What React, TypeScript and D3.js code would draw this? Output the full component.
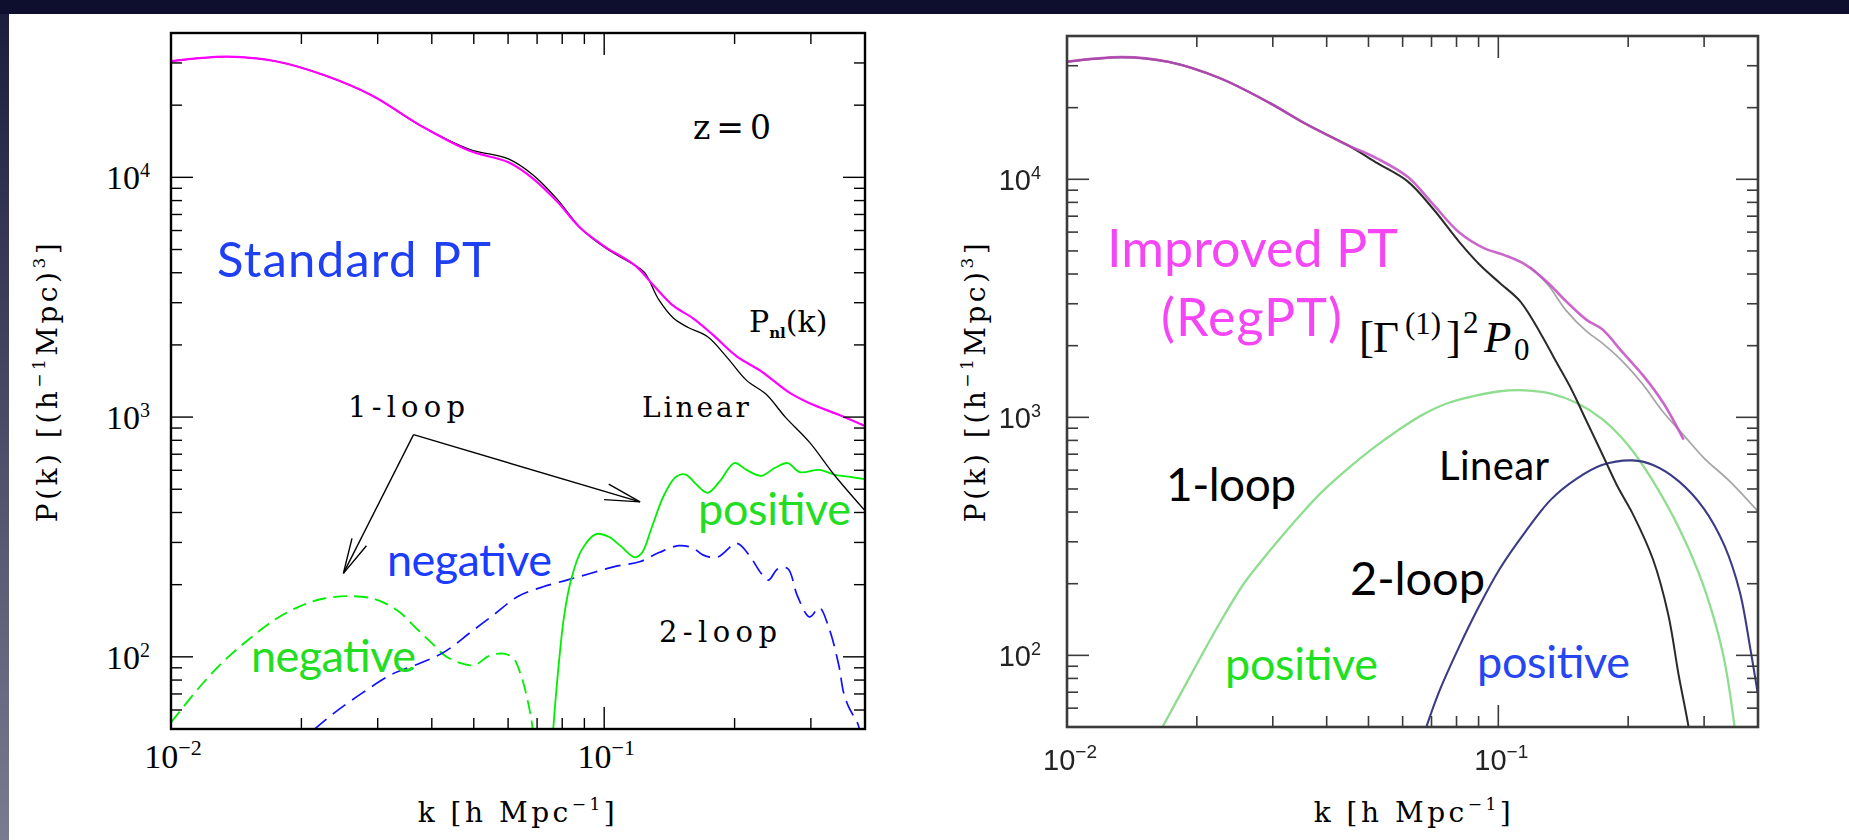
import React, { useEffect } from 'react';
import * as d3 from 'd3';

const W = 1849;
const H = 840;

// ---------- axis domains and tick labels ----------
const K_DOMAIN: [number, number] = [0.01, 0.4];
const P_DOMAIN: [number, number] = [50, 40000];
const X_TICK_LABELS = [
  { v: 0.01, exp: '−2' },
  { v: 0.1, exp: '−1' },
];
const Y_TICK_LABELS = [
  { v: 100, exp: '2' },
  { v: 1000, exp: '3' },
  { v: 10000, exp: '4' },
];

// ---------- left panel (Standard PT) ----------
const pnlK = [0.0100, 0.01346, 0.01742, 0.02254, 0.02917, 0.03776, 0.04887, 0.0601, 0.0684, 0.0778, 0.0885, 0.1007, 0.1178, 0.1305, 0.1446, 0.1604, 0.1778, 0.2023, 0.2301, 0.2688, 0.2980, 0.3479, 0.4009];
const pnlP = [30500, 31900, 30500, 26700, 21900, 16400, 12900, 11560, 9910, 7940, 6100, 5120, 4290, 3515, 2908, 2582, 2212, 1790, 1554, 1258, 1142, 1022, 916];

const linK = [0.0100, 0.01346, 0.01742, 0.02254, 0.02917, 0.03776, 0.04887, 0.0601, 0.0684, 0.0778, 0.0885, 0.1007, 0.1178, 0.1239, 0.1338, 0.1446, 0.1563, 0.1733, 0.1921, 0.2131, 0.2362, 0.2619, 0.2980, 0.3391, 0.4009];
const linP = [30500, 31900, 30500, 26700, 21900, 16400, 13090, 11940, 10260, 8130, 6100, 5070, 4290, 4010, 3080, 2582, 2363, 2163, 1775, 1423, 1247, 1000, 784, 576, 405];

const oneLoopPosK = [0.0749, 0.0778, 0.0809, 0.0841, 0.0886, 0.0957, 0.1021, 0.1089, 0.1177, 0.1223, 0.1288, 0.1374, 0.1465, 0.1543, 0.1625, 0.1733, 0.1848, 0.1998, 0.2131, 0.2302, 0.2487, 0.2653, 0.2829, 0.3138, 0.3391, 0.3663, 0.4009];
const oneLoopPosP = [32, 77.4, 150, 213.5, 278, 325, 318, 291, 260, 272, 347, 472, 564, 576, 528, 483, 539, 643, 602, 569, 616, 643, 589, 602, 576, 564, 551];

const oneLoopNegK = [0.0100, 0.01183, 0.01346, 0.01531, 0.01742, 0.01982, 0.02254, 0.02565, 0.02918, 0.0332, 0.03683, 0.03979, 0.04299, 0.04645, 0.05018, 0.05423, 0.05859, 0.06172, 0.06415, 0.06668, 0.06843, 0.06986];
const oneLoopNegP = [53.2, 77.4, 98.7, 120.4, 143.6, 162.4, 175.1, 179, 175.1, 156.8, 131.5, 115.2, 100.9, 94.4, 92.4, 100.9, 103.1, 98.7, 84.6, 64.9, 49.8, 35];

const twoLoopNegK = [0.02141, 0.02374, 0.02772, 0.03236, 0.03779, 0.04299, 0.04893, 0.05565, 0.06333, 0.07203, 0.08196, 0.09326, 0.1061, 0.1207, 0.1339, 0.1484, 0.1604, 0.1689, 0.1825, 0.2023, 0.2158, 0.2302, 0.2393, 0.2519, 0.2653, 0.2794, 0.2980, 0.3138, 0.3304, 0.3479, 0.3570, 0.3663, 0.3759, 0.3857, 0.3938];
const twoLoopNegP = [49.8, 58.1, 70.9, 84.6, 94.4, 105.4, 125.8, 150, 179, 195.6, 208.9, 223.2, 238.5, 249.2, 272.2, 290.8, 284.4, 266.3, 260.4, 297.3, 266.3, 223.2, 208.9, 233.3, 233.3, 179, 146.8, 160.3, 131.5, 92.4, 70.9, 62.1, 56.9, 52.1, 43.7];

// arrow annotation (k, P): origin, left tip, right tip
const arrowOrigin = [0.0363, 845];
const arrowTips = [
  [0.0250, 223],
  [0.121, 443],
];

// ---------- right panel (RegPT) ----------
const regK = [0.0100, 0.01342, 0.01715, 0.02253, 0.02958, 0.03579, 0.04451, 0.05242, 0.06172, 0.07073, 0.08107, 0.09290, 0.1036, 0.1155, 0.1288, 0.1437, 0.1602, 0.1739, 0.1940, 0.2163, 0.2411, 0.2689];
const regP = [31170, 32600, 31170, 26670, 20870, 17080, 13970, 12220, 10220, 7826, 5990, 5123, 4792, 4384, 3751, 3069, 2567, 2348, 1879, 1504, 1151, 806];

const gammaK = [0.0100, 0.01342, 0.01715, 0.02253, 0.02958, 0.03579, 0.04451, 0.05242, 0.06172, 0.07073, 0.08107, 0.09042, 0.1008, 0.1124, 0.1254, 0.1360, 0.1476, 0.1602, 0.1739, 0.1886, 0.2047, 0.2284, 0.2478, 0.2618, 0.2763, 0.2824];
const gammaP = [31170, 32600, 31170, 26670, 20870, 17080, 13970, 11690, 9779, 7485, 5477, 4384, 3667, 3069, 2246, 1719, 1315, 962.6, 704.7, 515.9, 394.8, 252.7, 148.1, 82.9, 49.7, 37.2];

const grayK = [0.1187, 0.1306, 0.1437, 0.1602, 0.1739, 0.1940, 0.2163, 0.2411, 0.2689, 0.2998, 0.3437, 0.3993];
const grayP = [4287, 3586, 2807, 2297, 2054, 1719, 1375, 1053, 842.3, 674.2, 539.4, 403.6];

const reg1LoopK = [0.0158, 0.01965, 0.02253, 0.02581, 0.02958, 0.03390, 0.03884, 0.04451, 0.05100, 0.05845, 0.06699, 0.07676, 0.08797, 0.1008, 0.1155, 0.1324, 0.1517, 0.1739, 0.1992, 0.2284, 0.2618, 0.2918, 0.3166, 0.3344, 0.3531, 0.3589];
const reg1LoopP = [42, 86.7, 135.4, 202.3, 276.3, 369.3, 482.5, 603, 737, 880.8, 1029, 1151, 1230, 1287, 1298, 1258, 1151, 984.5, 770.3, 539.3, 345.3, 221.1, 141.6, 94.8, 49.7, 37.2];

const reg2LoopK = [0.0665, 0.07268, 0.08107, 0.09042, 0.1008, 0.1155, 0.1324, 0.1517, 0.1739, 0.2047, 0.2284, 0.2618, 0.2998, 0.3344, 0.3629, 0.3834, 0.3993];
const reg2LoopP = [44, 69.4, 108.3, 161.9, 231.2, 330.3, 451.1, 551.3, 630.4, 659.2, 630.4, 539.4, 412.8, 288.9, 185, 108.3, 69.4];

// ---------- helpers ----------
function logTicks(lo: number, hi: number) {
  const out: { v: number; major: boolean }[] = [];
  for (let e = Math.floor(Math.log10(lo)); e <= Math.ceil(Math.log10(hi)); e++) {
    for (let m = 1; m <= 9; m++) {
      const v = m * Math.pow(10, e);
      if (v >= lo * 0.999 && v <= hi * 1.001) out.push({ v, major: m === 1 });
    }
  }
  return out;
}

function zip(a: number[], b: number[]): [number, number][] {
  return a.map((v, i) => [v, b[i]]);
}

type Box = { x0: number; y0: number; x1: number; y1: number };

function makeScales(box: Box) {
  const xs = d3.scaleLog().domain(K_DOMAIN).range([box.x0, box.x1]);
  const ys = d3.scaleLog().domain(P_DOMAIN).range([box.y1, box.y0]);
  return { xs, ys };
}

function Frame({ box, xs, ys, color, frameW, tickW, minorLen, majorLen }: any) {
  const xt = logTicks(K_DOMAIN[0], K_DOMAIN[1]);
  const yt = logTicks(P_DOMAIN[0], P_DOMAIN[1]);
  return (
    <g stroke={color} fill="none">
      {xt.map((t) => {
        const x = xs(t.v);
        const L = t.major ? majorLen : minorLen;
        return (
          <g key={'x' + t.v} strokeWidth={tickW}>
            <line x1={x} x2={x} y1={box.y1} y2={box.y1 - L} />
            <line x1={x} x2={x} y1={box.y0} y2={box.y0 + L} />
          </g>
        );
      })}
      {yt.map((t) => {
        const y = ys(t.v);
        const L = t.major ? majorLen : minorLen;
        return (
          <g key={'y' + t.v} strokeWidth={tickW}>
            <line x1={box.x0} x2={box.x0 + L} y1={y} y2={y} />
            <line x1={box.x1} x2={box.x1 - L} y1={y} y2={y} />
          </g>
        );
      })}
      <rect x={box.x0} y={box.y0} width={box.x1 - box.x0} height={box.y1 - box.y0} strokeWidth={frameW} />
    </g>
  );
}

const HERSHEY = "'DejaVu Serif', 'Liberation Serif', serif";
const SERIF = "'Liberation Serif', 'DejaVu Serif', serif";
const SANS = "'Liberation Sans', Arial, sans-serif";
const GILL = "Lato, 'Open Sans', sans-serif";

function arrowHead(tip: [number, number], from: [number, number], len: number, half: number) {
  const ang = Math.atan2(from[1] - tip[1], from[0] - tip[0]);
  const a1 = ang + (half * Math.PI) / 180;
  const a2 = ang - (half * Math.PI) / 180;
  return `M${tip[0] + len * Math.cos(a1)},${tip[1] + len * Math.sin(a1)}L${tip[0]},${tip[1]}L${tip[0] + len * Math.cos(a2)},${tip[1] + len * Math.sin(a2)}`;
}

function XLabel({ x }: { x: number }) {
  return (
    <text x={x} y={822} textAnchor="middle" letterSpacing={3.5}>
      k [h Mpc<tspan dy={-12} fontSize={17}>−1</tspan><tspan dy={12}>]</tspan>
    </text>
  );
}

function YLabel({ x }: { x: number }) {
  return (
    <text transform={`translate(${x},381) rotate(-90)`} textAnchor="middle" letterSpacing={3.5}>
      P(k) [(h<tspan dy={-12} fontSize={17}>−1</tspan><tspan dy={12}>Mpc)</tspan><tspan dy={-12} fontSize={17}>3</tspan><tspan dy={12}>]</tspan>
    </text>
  );
}

export default function App() {
  useEffect(() => {
    document.body.style.margin = '0';
    document.documentElement.style.overflow = 'hidden';
  }, []);

  const boxL: Box = { x0: 171, y0: 33, x1: 865, y1: 729 };
  const boxR: Box = { x0: 1067, y0: 36, x1: 1758, y1: 727 };
  const L = makeScales(boxL);
  const R = makeScales(boxR);

  const lineL = d3
    .line<[number, number]>()
    .x((d) => L.xs(d[0]))
    .y((d) => L.ys(d[1]))
    .curve(d3.curveCatmullRom.alpha(0.5));
  const lineR = d3
    .line<[number, number]>()
    .x((d) => R.xs(d[0]))
    .y((d) => R.ys(d[1]))
    .curve(d3.curveCatmullRom.alpha(0.5));

  const o: [number, number] = [L.xs(arrowOrigin[0]), L.ys(arrowOrigin[1])];
  const tips: [number, number][] = arrowTips.map((t) => [L.xs(t[0]), L.ys(t[1])]);

  return (
    <svg width={W} height={H} viewBox={`0 0 ${W} ${H}`} style={{ display: 'block' }}>
      <defs>
        <linearGradient id="strip" x1="0" y1="0" x2="0" y2="1">
          <stop offset="0" stopColor="#1b1b3d" />
          <stop offset="1" stopColor="#7a7a90" />
        </linearGradient>
        <clipPath id="clipL">
          <rect x={boxL.x0} y={boxL.y0} width={boxL.x1 - boxL.x0} height={boxL.y1 - boxL.y0} />
        </clipPath>
        <clipPath id="clipR">
          <rect x={boxR.x0} y={boxR.y0} width={boxR.x1 - boxR.x0} height={boxR.y1 - boxR.y0} />
        </clipPath>
        <filter id="soft" x="-5%" y="-5%" width="110%" height="110%">
          <feGaussianBlur stdDeviation="0.55" />
        </filter>
      </defs>

      <rect x={0} y={0} width={W} height={H} fill="#ffffff" />
      <rect x={0} y={0} width={9} height={H} fill="url(#strip)" />
      <rect x={0} y={0} width={W} height={14} fill="#0e0e2e" />

      {/* ================= LEFT PANEL ================= */}
      <g clipPath="url(#clipL)" fill="none" strokeLinejoin="round">
        <path d={lineL(zip(oneLoopNegK, oneLoopNegP)) || ''} stroke="#00ee00" strokeWidth={1.8} strokeDasharray="14 7" />
        <path d={lineL(zip(twoLoopNegK, twoLoopNegP)) || ''} stroke="#1010ff" strokeWidth={1.7} strokeDasharray="16 8" />
        <path d={lineL(zip(oneLoopPosK, oneLoopPosP)) || ''} stroke="#00ee00" strokeWidth={1.8} />
        <path d={lineL(zip(linK, linP)) || ''} stroke="#000000" strokeWidth={1.3} />
        <path d={lineL(zip(pnlK, pnlP)) || ''} stroke="#ff00ff" strokeWidth={2.2} />
      </g>
      <Frame box={boxL} xs={L.xs} ys={L.ys} color="#000" frameW={2.4} tickW={1.4} minorLen={11} majorLen={22} />

      {/* arrows */}
      <g stroke="#000" strokeWidth={1.4} fill="none">
        {tips.map((t, i) => (
          <g key={i}>
            <line x1={o[0]} y1={o[1]} x2={t[0]} y2={t[1]} />
            <path d={arrowHead(t, o, 36, 13)} />
          </g>
        ))}
      </g>

      {/* tick labels left */}
      <g fontFamily={SERIF} fontSize={34} fill="#000">
        {Y_TICK_LABELS.map((t) => (
          <text key={t.v} x={boxL.x0 - 21} y={L.ys(t.v) + 12} textAnchor="end">
            10<tspan dy={-12} fontSize={20}>{t.exp}</tspan>
          </text>
        ))}
        {X_TICK_LABELS.map((t) => (
          <text key={t.v} x={L.xs(t.v) + 2} y={boxL.y1 + 39} textAnchor="middle">
            10<tspan dy={-13} fontSize={22}>{t.exp}</tspan>
          </text>
        ))}
      </g>

      {/* axis labels left */}
      <g fontFamily={HERSHEY} fontSize={28} fill="#000">
        <XLabel x={518} />
        <YLabel x={57} />
      </g>

      {/* annotations left */}
      <g fontFamily={HERSHEY} fill="#000">
        <text x={693} y={139} fontSize={33} textLength={78}>z=0</text>
        <text x={749} y={332} fontSize={30}>
          P<tspan dy={6} fontSize={15} fontWeight="bold">nl</tspan><tspan dy={-6}>(k)</tspan>
        </text>
        <text x={642} y={417} fontSize={28} textLength={107}>Linear</text>
        <text x={348} y={417} fontSize={29} textLength={117}>1-loop</text>
        <text x={659} y={642} fontSize={29} textLength={118}>2-loop</text>
      </g>
      <g fontFamily={GILL}>
        <text x={217} y={277} fontSize={49} fill="#1f3ff2" textLength={274}>Standard PT</text>
        <text x={698} y={525} fontSize={45} fill="#22dd22" textLength={153}>positive</text>
        <text x={387} y={576} fontSize={45} fill="#1a3cff" textLength={165}>negative</text>
        <text x={251} y={672} fontSize={45} fill="#22dd22" textLength={165}>negative</text>
      </g>

      {/* ================= RIGHT PANEL ================= */}
      <g filter="url(#soft)">
        <g clipPath="url(#clipR)" fill="none" strokeLinejoin="round">
          <path d={lineR(zip(reg1LoopK, reg1LoopP)) || ''} stroke="#8fdd8f" strokeWidth={2.3} />
          <path d={lineR(zip(reg2LoopK, reg2LoopP)) || ''} stroke="#3b3b86" strokeWidth={2.1} />
          <path d={lineR(zip(grayK, grayP)) || ''} stroke="#a5a5a5" strokeWidth={1.7} />
          <path d={lineR(zip(gammaK, gammaP)) || ''} stroke="#2a2a2a" strokeWidth={2} />
          <path d={lineR(zip(regK, regP)) || ''} stroke="#c24cc2" strokeWidth={2.6} strokeOpacity={0.85} />
        </g>
        <Frame box={boxR} xs={R.xs} ys={R.ys} color="#3a3a3a" frameW={2.6} tickW={1.6} minorLen={11} majorLen={22} />
        <g fontFamily={SANS} fontSize={29} fill="#222">
          {Y_TICK_LABELS.map((t) => (
            <text key={t.v} x={boxR.x0 - 26} y={R.ys(t.v) + 11} textAnchor="end">
              10<tspan dy={-11} fontSize={18}>{t.exp}</tspan>
            </text>
          ))}
          {X_TICK_LABELS.map((t) => (
            <text key={t.v} x={R.xs(t.v) + 3} y={boxR.y1 + 43} textAnchor="middle">
              10<tspan dy={-12} fontSize={19}>{t.exp}</tspan>
            </text>
          ))}
        </g>
      </g>

      {/* axis labels right */}
      <g fontFamily={HERSHEY} fontSize={28} fill="#000">
        <XLabel x={1414} />
        <YLabel x={985} />
      </g>

      {/* annotations right */}
      <g fontFamily={GILL}>
        <text x={1107} y={267} fontSize={52} fill="#f546f5" textLength={291}>Improved PT</text>
        <text x={1161} y={336} fontSize={52} fill="#f546f5" textLength={181}>(RegPT)</text>
        <text x={1439} y={480} fontSize={40} fill="#000" textLength={110}>Linear</text>
        <text x={1166} y={501} fontSize={46} fill="#000" textLength={130}>1-loop</text>
        <text x={1350} y={595} fontSize={47} fill="#000" textLength={135}>2-loop</text>
        <text x={1225} y={680} fontSize={45} fill="#1ee01e" textLength={153}>positive</text>
        <text x={1477} y={678} fontSize={45} fill="#2546f0" textLength={153}>positive</text>
      </g>
      <text fontFamily={SERIF} fontSize={45} fill="#000" y={352}>
        <tspan x={1359}>[</tspan>
        <tspan x={1373}>Γ</tspan>
        <tspan x={1405} dy={-18} fontSize={31}>(1)</tspan>
        <tspan x={1446} dy={18}>]</tspan>
        <tspan x={1463} dy={-19} fontSize={31}>2</tspan>
        <tspan x={1484} dy={19} fontStyle="italic">P</tspan>
        <tspan x={1514} dy={8} fontSize={31}>0</tspan>
      </text>
    </svg>
  );
}
